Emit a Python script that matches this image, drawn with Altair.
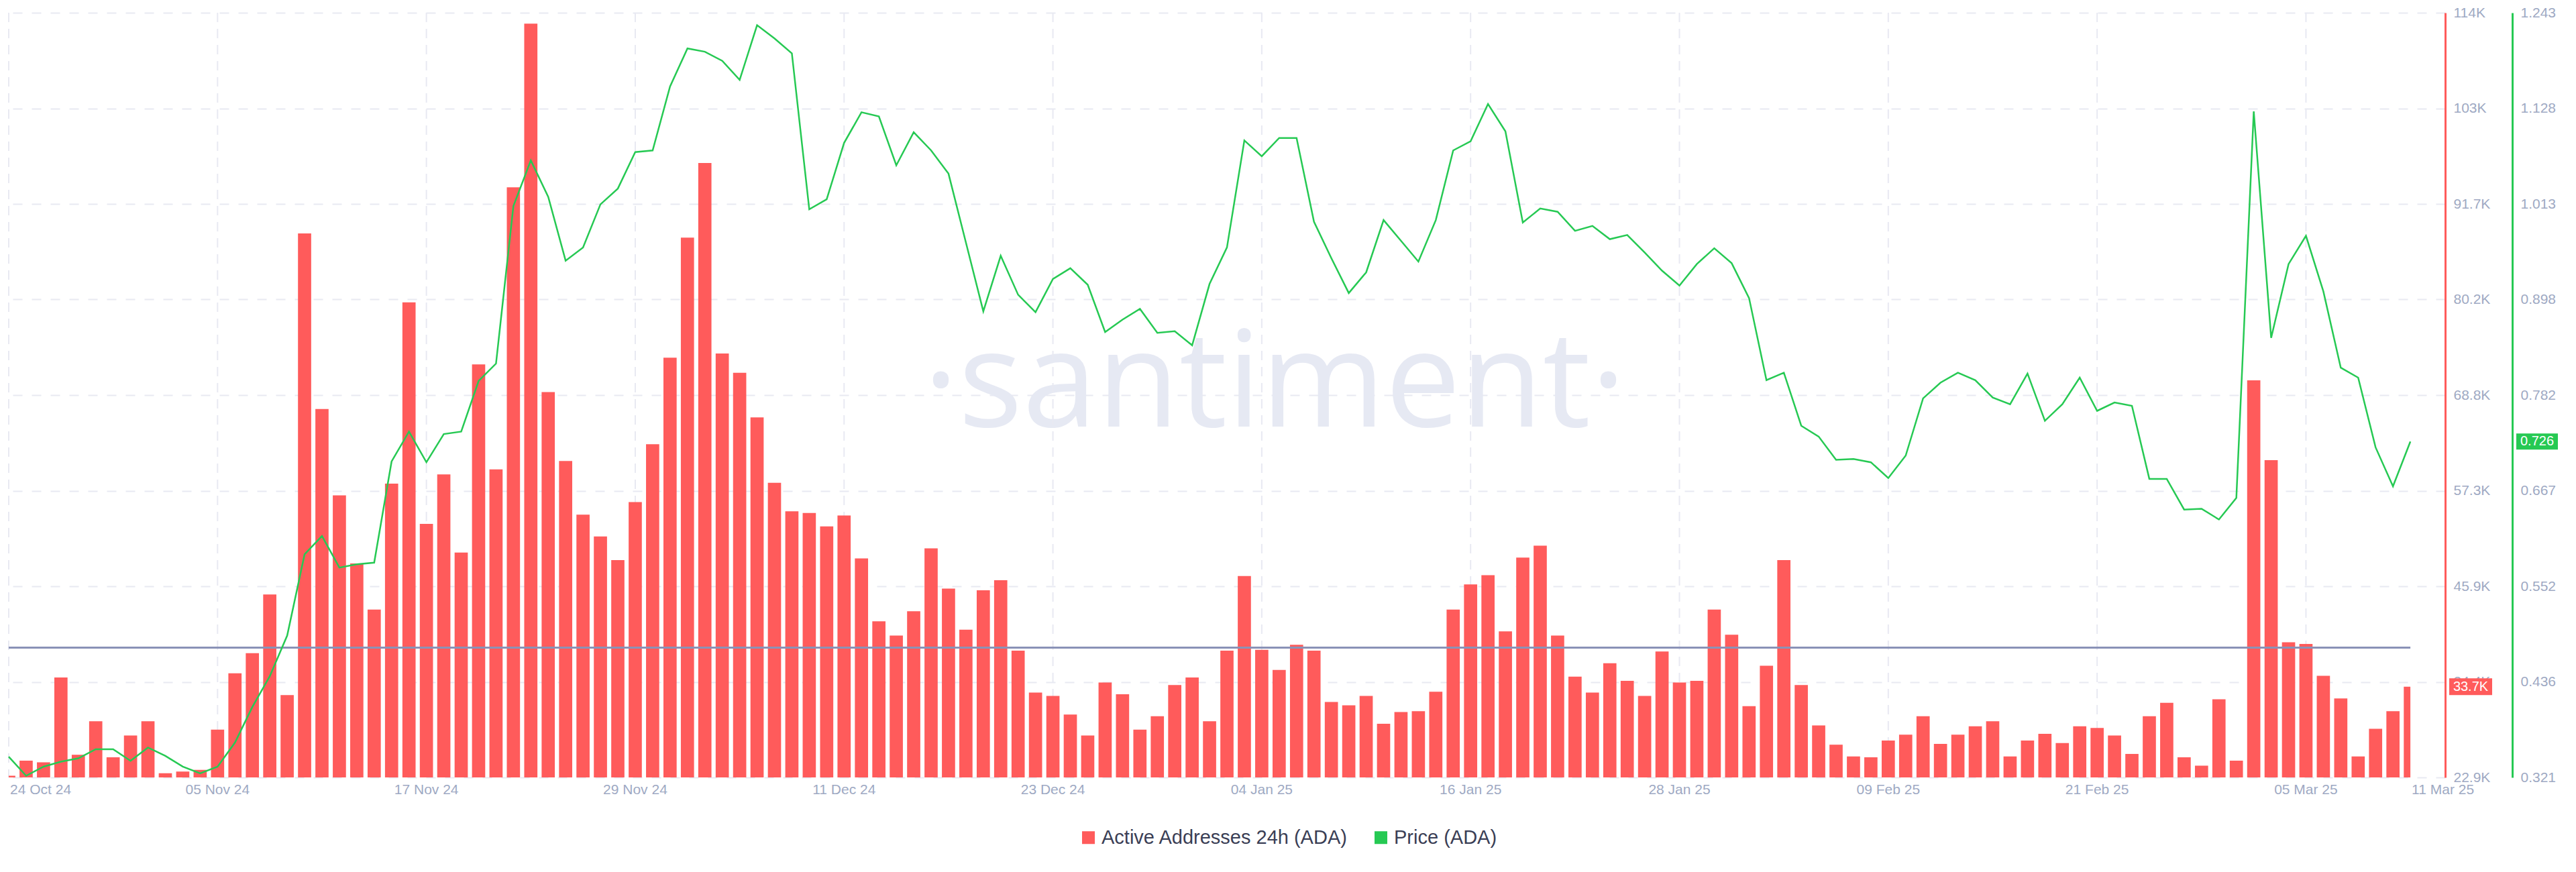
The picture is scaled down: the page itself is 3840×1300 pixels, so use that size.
import json
import altair as alt
import pandas as pd

# ---------------- data ----------------
START = "2024-10-24"
DOMAIN_END = "2025-03-13"
SERIES = ["Active Addresses 24h (ADA)", "Price (ADA)"]

# Active addresses 24h, thousands, daily from 24 Oct 2024 to 11 Mar 2025
active_addresses_k = [
    23.1, 24.9, 24.7, 34.8, 25.6, 29.6, 25.3, 27.9,
    29.6, 23.4, 23.6, 23.8, 28.6, 35.3, 37.7, 44.7, 32.7, 87.7, 66.8, 56.5, 48.4,
    42.9, 57.9, 79.5, 53.1, 59.0, 49.7, 72.1, 59.6, 93.2, 112.7, 68.8, 60.6, 54.2,
    51.6, 48.8, 55.7, 62.6,
    72.9, 87.2, 96.1, 73.4, 71.1, 65.8, 58.0, 54.6, 54.4, 52.8, 54.1, 49.0, 41.5,
    39.8, 42.7, 50.2, 45.4, 40.5, 45.2, 46.4, 38.0, 33.0, 32.6, 30.4, 27.9, 34.2,
    32.8, 28.6, 30.2, 33.9, 34.8,
    29.6, 38.0, 46.9, 38.1, 35.7, 38.7, 38.0, 31.9, 31.5, 32.6, 29.3, 30.7, 30.8,
    33.1, 42.9, 45.9, 47.0, 40.3, 49.1, 50.5, 39.8, 34.9, 33.0, 36.5, 34.4, 32.6,
    37.9, 34.2, 34.4, 42.9, 39.9,
    31.4, 36.2, 48.8, 33.9, 29.1, 26.8, 25.4, 25.3, 27.3, 28.0, 30.2, 26.9, 28.0,
    29.0, 29.6, 25.4, 27.3, 28.1, 27.0, 29.0, 28.8, 27.9, 25.7, 30.2, 31.8, 25.3,
    24.3, 32.2,
    24.9, 70.2, 60.7, 39.0, 38.8, 35.0, 32.3, 25.4, 28.7, 30.8, 33.7,
]

# Price (ADA), USD, same days
price_usd = [
    0.346, 0.323, 0.334, 0.340, 0.344, 0.355, 0.355, 0.341,
    0.357, 0.347, 0.334, 0.326, 0.334, 0.363, 0.406, 0.443, 0.492, 0.590, 0.612,
    0.574, 0.578, 0.580, 0.702, 0.738, 0.701, 0.735, 0.738, 0.799, 0.820, 1.010,
    1.065, 1.021, 0.944, 0.960, 1.012, 1.031, 1.075, 1.077,
    1.154, 1.200, 1.196, 1.185, 1.162, 1.228, 1.212, 1.194, 1.006, 1.018, 1.086,
    1.123, 1.118, 1.059, 1.099, 1.077, 1.049, 0.966, 0.883, 0.950, 0.903, 0.882,
    0.922, 0.935, 0.915, 0.858, 0.873, 0.886, 0.857, 0.859, 0.842,
    0.916, 0.960, 1.089, 1.070, 1.092, 1.092, 0.991, 0.947, 0.905, 0.930, 0.993,
    0.968, 0.943, 0.993, 1.077, 1.088, 1.133, 1.100, 0.990, 1.007, 1.003, 0.980,
    0.986, 0.970, 0.975, 0.954, 0.932, 0.914, 0.940, 0.959, 0.941,
    0.899, 0.800, 0.809, 0.745, 0.732, 0.704, 0.705, 0.701, 0.682, 0.709, 0.778,
    0.797, 0.809, 0.800, 0.779, 0.771, 0.808, 0.751, 0.771, 0.803, 0.763, 0.773,
    0.769, 0.681, 0.681, 0.644, 0.645, 0.632,
    0.658, 1.124, 0.851, 0.940, 0.974, 0.907, 0.815, 0.803, 0.719, 0.672, 0.726,
]

AVG_ACTIVE_K = 38.37  # horizontal reference line

x_tick_dates = ["2024-10-24", "2024-11-05", "2024-11-17", "2024-11-29",
                "2024-12-11", "2024-12-23", "2025-01-04", "2025-01-16",
                "2025-01-28", "2025-02-09", "2025-02-21", "2025-03-05",
                "2025-03-11"]

aa_domain = [22.9, 114.0]
aa_tick_labels = ["22.9K", "34.4K", "45.9K", "57.3K", "68.8K", "80.2K",
                  "91.7K", "103K", "114K"]
price_domain = [0.321, 1.243]
price_tick_labels = ["0.321", "0.436", "0.552", "0.667", "0.782", "0.898",
                     "1.013", "1.128", "1.243"]

# ---------------- styling ----------------
RED = "#ff5b5b"
GREEN = "#26c953"
AVG_COLOR = "#8a92b7"
GRID = "#e8e9f2"
TICK_TXT = "#9ea9c3"
LEGEND_TXT = "#3a3e55"
WATERMARK = "#e6e9f3"
FONT = "Liberation Sans"
W, H = 3632, 1140


def ms(s):
    return int(pd.Timestamp(s, tz="UTC").timestamp() * 1000)


def iso(ts):
    return ts.strftime("%Y-%m-%dT%H:%M:%SZ")


dates = pd.date_range(START, periods=len(active_addresses_k), freq="D")
half = pd.Timedelta(hours=9.1)
last = dates[-1]
df = pd.DataFrame({
    "date": [iso(d) for d in dates],
    "bar_start": [iso(d - half) for d in dates],
    "bar_end": [iso(min(d + half, last)) for d in dates],
    "aa": active_addresses_k,
    "price": price_usd,
    "s_aa": SERIES[0],
    "s_price": SERIES[1],
})
last_df = df.tail(1).copy()
last_df["aa_label"] = f"{active_addresses_k[-1]:.1f}K"
last_df["price_label"] = f"{price_usd[-1]:.3f}"

avg_df = pd.DataFrame({"start": [iso(dates[0])], "end": [iso(last)],
                       "avg": [AVG_ACTIVE_K]})
wm_df = pd.DataFrame({"t": ["\u00b7santiment\u00b7"]})

tick_ts = [pd.Timestamp(d) for d in x_tick_dates]
ticks_df = pd.DataFrame({"d": [iso(t) for t in tick_ts],
                         "lab": [t.strftime("%d %b %y") for t in tick_ts]})
grid_df = ticks_df.iloc[:-1]            # no vertical grid line at the last label
mid_labels = ticks_df.iloc[1:-1]
end_labels = ticks_df.iloc[[0, -1]]

aa_step = (aa_domain[1] - aa_domain[0]) / 8
aa_ticks = [aa_domain[0] + k * aa_step for k in range(9)]
pr_step = (price_domain[1] - price_domain[0]) / 8
pr_ticks = [price_domain[0] + k * pr_step for k in range(9)]

x_scale = alt.Scale(type="utc", domain=[ms(START), ms(DOMAIN_END)], nice=False)
aa_scale = alt.Scale(domain=aa_domain, zero=False, nice=False)
pr_scale = alt.Scale(domain=price_domain, zero=False, nice=False)
color_scale = alt.Scale(domain=SERIES, range=[RED, GREEN])

x_axis = alt.Axis(title=None, labels=False, ticks=False, grid=False,
                  domain=True, domainColor="#e4e6ef", domainWidth=2)
aa_axis = alt.Axis(
    orient="right", values=aa_ticks, title=None,
    labelExpr=f"{json.dumps(aa_tick_labels)}[round((datum.value - {aa_domain[0]}) / {aa_step})]",
    labelFont=FONT, labelFontSize=21, labelColor=TICK_TXT, labelPadding=12,
    ticks=False, domain=True, domainColor=RED, domainWidth=3,
    grid=True, gridColor=GRID, gridDash=[14, 14], gridWidth=2,
)
pr_axis = alt.Axis(
    orient="right", offset=100, values=pr_ticks, title=None,
    labelExpr=f"{json.dumps(price_tick_labels)}[round((datum.value - {price_domain[0]}) / {pr_step})]",
    labelFont=FONT, labelFontSize=21, labelColor=TICK_TXT, labelPadding=12,
    ticks=False, domain=True, domainColor=GREEN, domainWidth=3, grid=False,
)

BADGE = "M-1,-0.39L1,-0.39L1,0.39L-1,0.39Z"

watermark = alt.Chart(wm_df).mark_text(
    font="Open Sans", fontSize=200, color=WATERMARK, align="center",
    baseline="alphabetic",
).encode(text="t:N", x=alt.value(1887), y=alt.value(617))

vgrid = alt.Chart(grid_df).mark_rule(
    color=GRID, strokeWidth=2, strokeDash=[14, 10]
).encode(x=alt.X("d:T", scale=x_scale, axis=None))

xlab_mid = alt.Chart(mid_labels).mark_text(
    font=FONT, fontSize=21, color=TICK_TXT, align="center", baseline="middle",
).encode(x=alt.X("d:T", scale=x_scale, axis=None), y=alt.value(H + 19),
         text="lab:N")
xlab_end = alt.Chart(end_labels).mark_text(
    font=FONT, fontSize=21, color=TICK_TXT, align="left", baseline="middle", dx=2,
).encode(x=alt.X("d:T", scale=x_scale, axis=None), y=alt.value(H + 19),
         text="lab:N")

bars = alt.Chart(df).mark_bar(clip=True).encode(
    x=alt.X("bar_start:T", scale=x_scale, axis=x_axis),
    x2="bar_end:T",
    y=alt.Y("aa:Q", scale=aa_scale, axis=aa_axis),
    y2=alt.datum(aa_domain[0]),
    color=alt.Color("s_aa:N", scale=color_scale, legend=alt.Legend(
        orient="none", legendX=1595, legendY=1215, direction="horizontal",
        title=None, symbolType="square", symbolSize=361, symbolStrokeWidth=0,
        labelFont=FONT, labelFontSize=29, labelColor=LEGEND_TXT,
        labelOffset=5, columnPadding=34, padding=0, labelLimit=0)),
)

avg_rule = alt.Chart(avg_df).mark_rule(color=AVG_COLOR, strokeWidth=3).encode(
    x=alt.X("start:T", scale=x_scale, axis=None),
    x2="end:T",
    y=alt.Y("avg:Q", scale=aa_scale, axis=None),
)

red_badge = alt.Chart(last_df).mark_point(
    shape=BADGE, filled=True, size=4096, color=RED, opacity=1, strokeWidth=0,
).encode(x=alt.value(3670), y=alt.Y("aa:Q", scale=aa_scale, axis=None))
red_text = alt.Chart(last_df).mark_text(
    color="white", font=FONT, fontSize=20, align="center", baseline="middle",
).encode(x=alt.value(3670), y=alt.Y("aa:Q", scale=aa_scale, axis=None),
         text="aa_label:N")

line = alt.Chart(df).mark_line(strokeWidth=2.5).encode(
    x=alt.X("date:T", scale=x_scale, axis=None),
    y=alt.Y("price:Q", scale=pr_scale, axis=pr_axis),
    color=alt.Color("s_price:N", scale=color_scale, legend=None),
)
green_badge = alt.Chart(last_df).mark_point(
    shape=BADGE, filled=True, size=3844, color=GREEN, opacity=1, strokeWidth=0,
).encode(x=alt.value(3769), y=alt.Y("price:Q", scale=pr_scale, axis=None))
green_text = alt.Chart(last_df).mark_text(
    color="white", font=FONT, fontSize=20, align="center", baseline="middle",
).encode(x=alt.value(3769), y=alt.Y("price:Q", scale=pr_scale, axis=None),
         text="price_label:N")

# flat layer: every y scale carries the same explicit domain, so independent
# scales map identically; only bars and line draw y axes
chart = alt.layer(
    watermark, vgrid, bars, avg_rule, line, red_badge, red_text,
    green_badge, green_text, xlab_mid, xlab_end
).resolve_scale(
    y="independent"
).properties(
    width=W, height=H,
    padding={"left": 0, "top": 0, "right": 0, "bottom": 0},
    background="white",
).configure_view(stroke=None)

chart.save("out.html", embed_options={"renderer": "svg", "actions": False})
